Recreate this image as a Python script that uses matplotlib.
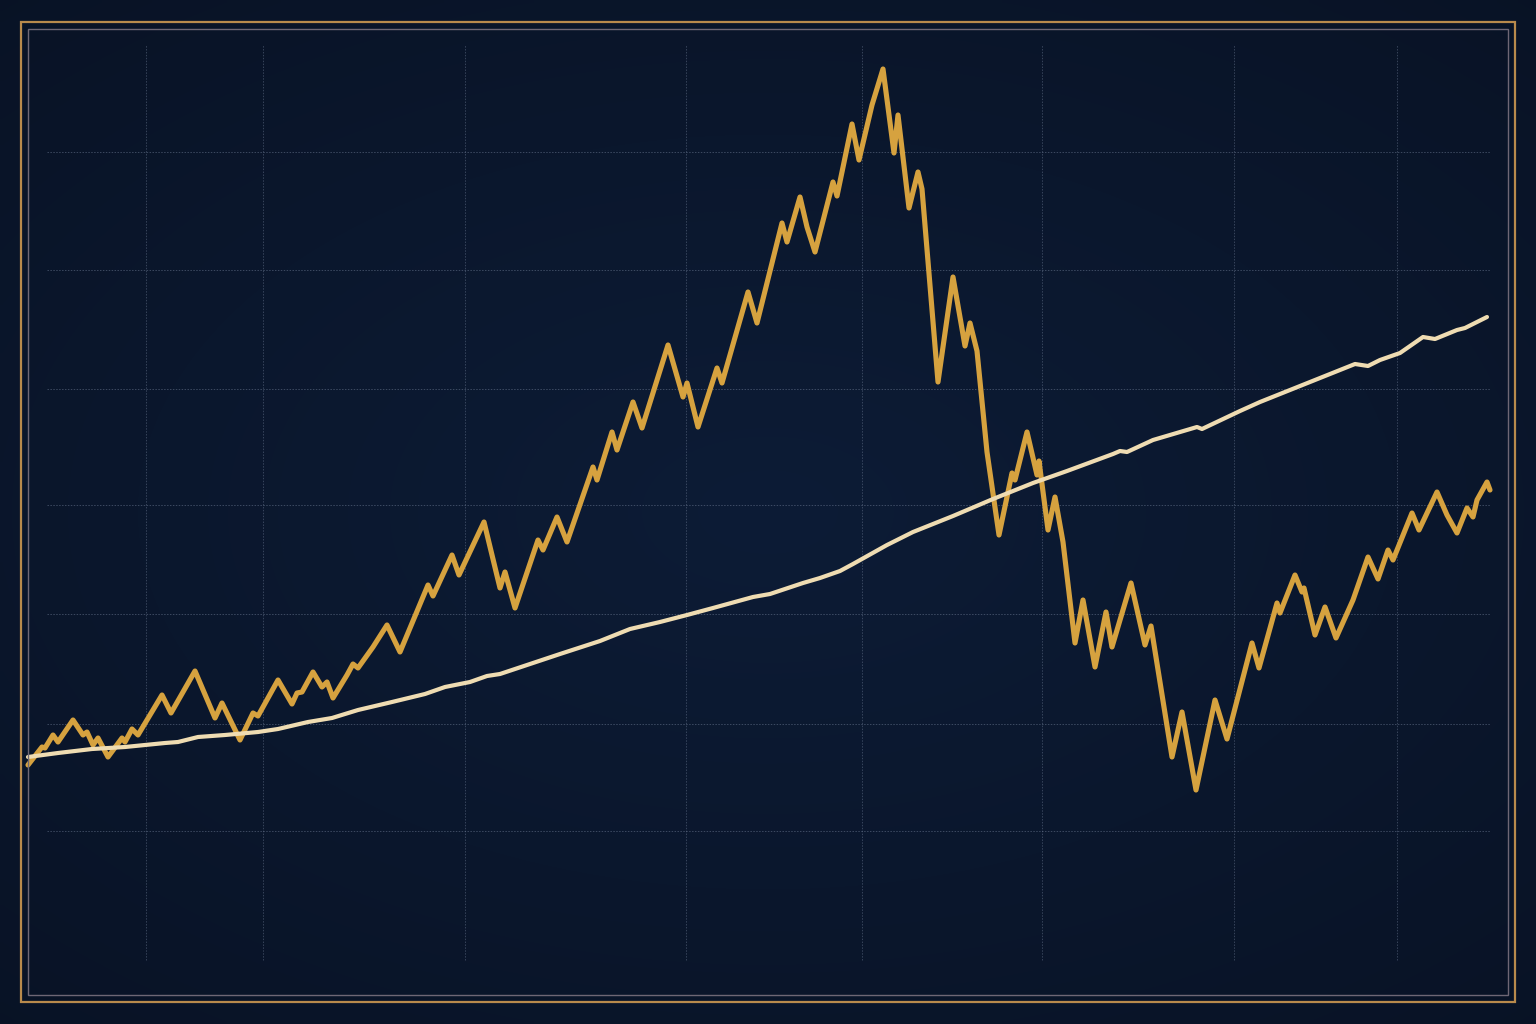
import numpy as np
import matplotlib
matplotlib.use("Agg")
import matplotlib.pyplot as plt
from matplotlib.patches import Rectangle

# time axis in trading weeks, values as an index level (start = 100)
gold_weeks = [
    0, 14, 17, 25, 30, 45, 55, 59, 65, 70,
    80, 94, 97, 104, 110, 134, 143, 167, 187, 194,
    212, 225, 230, 250, 264, 269, 274, 285, 294, 299,
    305, 319, 325, 330, 345, 359, 372, 400, 405, 424,
    431, 456, 472, 477, 487, 510, 515, 529, 539, 565,
    569, 584, 589, 605, 614, 640, 655, 659, 670, 689,
    694, 720, 729, 754, 759, 772, 779, 787, 805, 809,
    824, 831, 844, 855, 866, 870, 881, 890, 894, 910,
    925, 937, 942, 949, 959, 971, 984, 987, 999, 1009,
    1011, 1020, 1027, 1035, 1047, 1055, 1067, 1078, 1084, 1103,
    1117, 1123, 1144, 1154, 1168, 1187, 1199, 1224, 1231, 1249,
    1252, 1267, 1274, 1276, 1287, 1297, 1308, 1325, 1340, 1350,
    1360, 1365, 1384, 1391, 1409, 1419, 1429, 1439, 1445, 1449,
    1459, 1462,
]
gold_values = [
    96.8, 104.0, 103.6, 108.8, 106.0, 114.8, 108.8, 110.0, 104.8, 107.6,
    100.0, 107.6, 106.0, 111.2, 108.8, 124.8, 117.6, 134.4, 115.6, 121.6,
    106.8, 117.6, 116.4, 130.8, 121.2, 125.6, 126.0, 134.0, 128.0, 130.0,
    123.6, 132.8, 137.2, 135.6, 144.0, 152.8, 142.0, 168.8, 164.4, 180.8,
    172.8, 194.0, 167.6, 174.0, 159.6, 186.8, 182.8, 196.0, 186.0, 216.0,
    210.8, 230.0, 222.8, 242.0, 231.6, 264.8, 244.0, 249.6, 232.0, 255.6,
    249.6, 286.0, 273.6, 313.6, 306.0, 324.0, 312.0, 302.0, 330.0, 324.4,
    353.2, 338.8, 360.8, 375.2, 341.6, 356.8, 319.6, 334.0, 327.2, 250.0,
    292.0, 264.4, 273.6, 262.4, 222.0, 188.8, 213.6, 210.8, 230.0, 212.8,
    218.4, 190.8, 204.0, 186.0, 145.6, 162.8, 136.0, 158.0, 144.0, 169.6,
    144.8, 152.4, 100.0, 118.0, 86.8, 122.8, 107.2, 145.6, 135.6, 161.6,
    157.6, 172.8, 166.0, 167.6, 148.8, 160.0, 147.6, 162.8, 180.0, 171.2,
    182.8, 178.8, 197.6, 190.8, 206.0, 196.8, 189.6, 199.6, 196.0, 202.8,
    210.0, 206.8,
]

cream_weeks = [
    0, 30, 64, 97, 117, 137, 150, 170, 197, 230,
    250, 280, 304, 330, 364, 397, 417, 442, 459, 472,
    502, 532, 572, 602, 632, 659, 685, 725, 742, 775,
    792, 812, 825, 859, 885, 925, 965, 1005, 1039, 1085,
    1092, 1099, 1125, 1169, 1174, 1212, 1232, 1262, 1292, 1317,
    1327, 1340, 1352, 1372, 1395, 1407, 1429, 1437, 1459,
]
cream_values = [
    100.0, 101.6, 103.2, 104.0, 104.8, 105.6, 106.0, 108.0, 108.8, 110.0,
    111.2, 114.0, 115.6, 118.8, 122.0, 125.2, 128.0, 130.0, 132.4, 133.2,
    137.2, 141.2, 146.4, 151.2, 154.0, 156.8, 159.6, 164.0, 165.2, 169.6,
    171.6, 174.4, 177.2, 184.8, 190.0, 196.4, 203.2, 209.6, 214.4, 221.2,
    222.4, 222.0, 226.8, 232.0, 231.2, 238.4, 242.0, 246.8, 251.6, 255.6,
    257.2, 256.4, 258.8, 261.6, 268.0, 267.2, 270.8, 271.6, 276.0,
]

grid_levels = [70.4, 113.2, 157.2, 200.8, 247.2, 294.8, 342.0]
grid_weeks = [118, 235, 437, 658, 834, 1014, 1206, 1369]

BG = "#0a1628"
GOLD = "#d6a23f"
CREAM = "#efdcb2"
GRID = "#6f7d96"

fig = plt.figure(figsize=(15.36, 10.24), dpi=100, facecolor=BG)
ax = fig.add_axes([0, 0, 1, 1])
ax.set_xlim(-28, 1508)
ax.set_ylim(-6.8, 402.8)
ax.axis("off")

# soft vignette background
yy, xx = np.mgrid[-1:1:200j, -1:1:300j]
r = np.sqrt((xx * 0.9) ** 2 + (yy * 1.0) ** 2)
shade = np.clip(1 - 0.45 * r, 0, 1)
c_in = np.array([13, 28, 54]) / 255
c_out = np.array([6, 13, 27]) / 255
img = c_out + (c_in - c_out) * shade[..., None]
ax.imshow(img, extent=(-28, 1508, -6.8, 402.8), aspect="auto",
          interpolation="bilinear", zorder=0)

# dotted grid
ax.hlines(grid_levels, 19, 1462, colors=GRID, lw=0.7,
          linestyles=(0, (1.5, 1.5)), alpha=0.5, zorder=1)
ax.vlines(grid_weeks, 18.8, 384.8, colors=GRID, lw=0.7,
          linestyles=(0, (1.5, 1.5)), alpha=0.45, zorder=1)

ax.plot(gold_weeks, gold_values, color=GOLD, lw=3.7,
        solid_joinstyle="round", solid_capstyle="round", zorder=3)
ax.plot(cream_weeks, cream_values, color=CREAM, lw=3.0,
        solid_joinstyle="round", solid_capstyle="round", zorder=4)

# double frame
W, H = 1536, 1024
fig.patches.append(Rectangle((21 / W, 22 / H), (1515 - 21) / W, (1002 - 22) / H,
                             transform=fig.transFigure, fill=False,
                             ec="#b88a4c", lw=1.6, zorder=5))
fig.patches.append(Rectangle((27.5 / W, 29 / H), (1508 - 27.5) / W, (995 - 29) / H,
                             transform=fig.transFigure, fill=False,
                             ec="#6e6775", lw=1.0, zorder=5))

fig.savefig("out.png", dpi=100, facecolor=BG)
